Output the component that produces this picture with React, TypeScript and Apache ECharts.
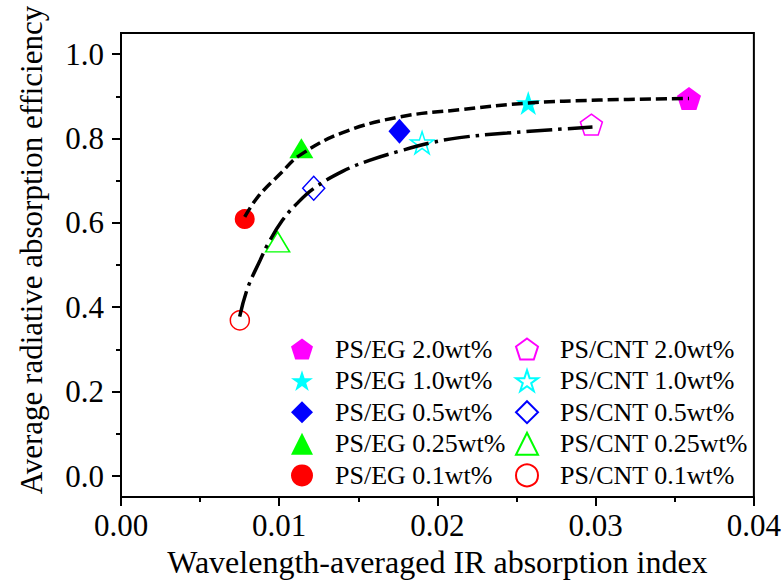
import React, { useEffect, useRef } from "react";
import * as echarts from "echarts";

// ---- data ----
const EG_NAMES = ["PS/EG 2.0wt%", "PS/EG 1.0wt%", "PS/EG 0.5wt%", "PS/EG 0.25wt%", "PS/EG 0.1wt%"];
const CNT_NAMES = ["PS/CNT 2.0wt%", "PS/CNT 1.0wt%", "PS/CNT 0.5wt%", "PS/CNT 0.25wt%", "PS/CNT 0.1wt%"];
const EG_X = [0.0359, 0.02574, 0.0176, 0.0114, 0.00782];
const EG_Y = [0.895, 0.884, 0.817, 0.777, 0.609];
const CNT_X = [0.02973, 0.01903, 0.01218, 0.0099, 0.00751];
const CNT_Y = [0.833, 0.79, 0.682, 0.555, 0.369];
const COLORS = ["#ff00ff", "#00ffff", "#0000ff", "#00ff00", "#ff0000"];

const EG_FIT_X = [0.00782, 0.00864, 0.01016, 0.01129, 0.01401, 0.0176, 0.02139, 0.02574, 0.03022, 0.0359];
const EG_FIT_Y = [0.614, 0.661, 0.72, 0.76, 0.814, 0.851, 0.868, 0.884, 0.891, 0.895];
const CNT_FIT_X = [0.0075, 0.008, 0.0088, 0.0093, 0.0102, 0.0111, 0.0122, 0.014, 0.0157, 0.0176, 0.0195, 0.0214, 0.0244, 0.0273, 0.0298];
const CNT_FIT_Y = [0.378, 0.445, 0.512, 0.551, 0.606, 0.645, 0.682, 0.722, 0.748, 0.77, 0.789, 0.802, 0.813, 0.821, 0.827];

const Y_TICKS = [0, 0.2, 0.4, 0.6, 0.8, 1.0];
const Y_MINOR_TICKS = [0.1, 0.3, 0.5, 0.7, 0.9];

const PENTAGON = "path://M0,-1L0.951,-0.309L0.588,0.809L-0.588,0.809L-0.951,-0.309Z";
const STAR =
  "path://M0,-1L0.2245,-0.309L0.951,-0.309L0.363,0.118L0.588,0.809L0,0.382L-0.588,0.809L-0.363,0.118L-0.951,-0.309L-0.2245,-0.309Z";
const SYMBOLS = [PENTAGON, STAR, "diamond", "triangle", "circle"];
const SIZES: any[] = [[24, 23], [25, 24], [22, 25], [24, 20], [20, 20]];
const HOLLOW_SIZES: any[] = [[22, 21], [23, 22], [22, 24], [24, 20], [19, 19]];

const FONT = "'Liberation Serif', 'Times New Roman', serif";

export default function App() {
  const ref = useRef<HTMLDivElement>(null);
  useEffect(() => {
    if (!ref.current) return;
    const chart = echarts.init(ref.current, undefined, { renderer: "svg" });
    const scatterEG = EG_NAMES.map((n, i) => ({
      name: n,
      type: "scatter",
      symbol: SYMBOLS[i],
      symbolSize: SIZES[i],
      itemStyle: { color: COLORS[i], opacity: 1 },
      data: [[EG_X[i], EG_Y[i]]],
      z: 2,
    }));
    const scatterCNT = CNT_NAMES.map((n, i) => ({
      name: n,
      type: "scatter",
      symbol: SYMBOLS[i],
      symbolSize: HOLLOW_SIZES[i],
      itemStyle: { color: "#ffffff", borderColor: COLORS[i], borderWidth: 1.5, opacity: 1 },
      data: [[CNT_X[i], CNT_Y[i]]],
      z: 2,
    }));
    const fitEG = {
      name: "fitEG",
      type: "line",
      smooth: 0.4,
      showSymbol: false,
      symbol: "none",
      lineStyle: { color: "#000", width: 3.5, type: [11, 5], cap: "butt" },
      data: EG_FIT_X.map((x, i) => [x, EG_FIT_Y[i]]),
      z: 5,
    };
    const fitCNT = {
      name: "fitCNT",
      type: "line",
      smooth: 0.4,
      showSymbol: false,
      symbol: "none",
      lineStyle: { color: "#000", width: 3.5, type: [26, 6, 3.5, 6], cap: "butt" },
      data: CNT_FIT_X.map((x, i) => [x, CNT_FIT_Y[i]]),
      z: 5,
    };
    const legendCommon = {
      orient: "vertical",
      padding: 0,
      itemWidth: 22,
      itemHeight: 22,
      itemGap: 5.6,
      symbolKeepAspect: true,
      selectedMode: false,
      textStyle: { fontFamily: FONT, fontSize: 26, color: "#000", lineHeight: 22, padding: [0, 0, 0, 17] },
    };
    chart.setOption({
      animation: false,
      backgroundColor: "#fff",
      grid: {
        left: 121,
        right: 29,
        top: 33,
        bottom: 83,
        show: true,
        borderColor: "#000",
        borderWidth: 2,
      },
      legend: [
        { ...legendCommon, left: 291, top: 336, data: EG_NAMES },
        { ...legendCommon, left: 515, top: 336, data: CNT_NAMES },
      ],
      xAxis: {
        type: "value",
        min: 0,
        max: 0.04,
        interval: 0.01,
        name: "Wavelength-averaged IR absorption index",
        nameLocation: "middle",
        nameGap: 46,
        nameTextStyle: { fontFamily: FONT, fontSize: 32, color: "#000" },
        axisLine: { show: true, onZero: false, lineStyle: { color: "#000", width: 2 } },
        axisTick: { show: true, inside: false, length: 9, lineStyle: { color: "#000", width: 2 } },
        minorTick: { show: true, splitNumber: 2, length: 5, lineStyle: { color: "#000", width: 2 } },
        splitLine: { show: false },
        axisLabel: {
          fontFamily: FONT,
          fontSize: 31,
          color: "#000",
          margin: 13,
          formatter: (v: number) => v.toFixed(2),
        },
      },
      yAxis: [
        {
          type: "value",
          min: -0.05,
          max: 1.05,
          name: "Average radiative absorption efficiency",
          nameLocation: "middle",
          nameGap: 74,
          nameTextStyle: { fontFamily: FONT, fontSize: 31, color: "#000", padding: [0, 0, 0, 30] },
          axisLine: { show: true, onZero: false, lineStyle: { color: "#000", width: 2 } },
          axisTick: {
            show: true,
            inside: false,
            length: 9,
            customValues: Y_TICKS,
            lineStyle: { color: "#000", width: 2 },
          },
          splitLine: { show: false },
          axisLabel: {
            fontFamily: FONT,
            fontSize: 31,
            color: "#000",
            margin: 17,
            customValues: Y_TICKS,
            formatter: (v: number) => v.toFixed(1),
          },
        },
        {
          type: "value",
          min: -0.05,
          max: 1.05,
          position: "left",
          axisLine: { show: false, onZero: false },
          axisTick: {
            show: true,
            inside: false,
            length: 5,
            customValues: Y_MINOR_TICKS,
            lineStyle: { color: "#000", width: 2 },
          },
          axisLabel: { show: false },
          splitLine: { show: false },
        },
      ],
      series: [...scatterEG, ...scatterCNT, fitEG, fitCNT],
    });
    return () => chart.dispose();
  }, []);
  return (
    <div
      ref={ref}
      style={{ width: 784, height: 583, position: "fixed", left: 0, top: 0 }}
    />
  );
}
